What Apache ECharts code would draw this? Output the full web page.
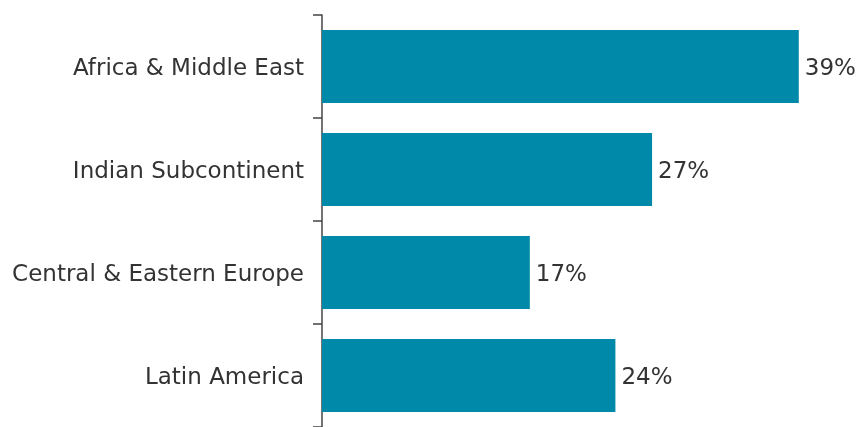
<!DOCTYPE html>
<html><head><meta charset="utf-8">
<script src="https://cdn.jsdelivr.net/npm/echarts@6/dist/echarts.min.js"></script>
<style>html,body{margin:0;padding:0;background:#fff}#c{width:857px;height:427px}</style>
</head><body><div id="c"></div>
<script>
const categories = ["Africa & Middle East", "Indian Subcontinent", "Central & Eastern Europe", "Latin America"];
const values = [39, 27, 17, 24];

const chart = echarts.init(document.getElementById('c'), null, {renderer: 'canvas'});
chart.setOption({
  animation: false,
  grid: {left: 322, width: 489, top: 15, height: 414, containLabel: false},
  xAxis: {type: 'value', min: 0, max: 40, show: false},
  yAxis: {
    type: 'category', inverse: true, data: categories,
    axisLine: {show: true, lineStyle: {color: '#444', width: 1.5}},
    axisTick: {show: true, length: 9, lineStyle: {color: '#444', width: 1.5}},
    axisLabel: {
      margin: 18,
      formatter: v => '{a|' + v + '}',
      rich: {a: {color: '#333', fontSize: 23, fontFamily: 'DejaVu Sans', padding: [6, 0, 0, 0]}}
    },
    splitLine: {show: false}
  },
  series: [{
    type: 'bar', data: values, barCategoryGap: '29%',
    itemStyle: {color: '#0089A8'},
    label: {show: true, position: 'right', distance: 6, offset: [0, 3], formatter: '{c}%', color: '#333', fontSize: 23, fontFamily: 'DejaVu Sans'}
  }]
});
</script></body></html>
